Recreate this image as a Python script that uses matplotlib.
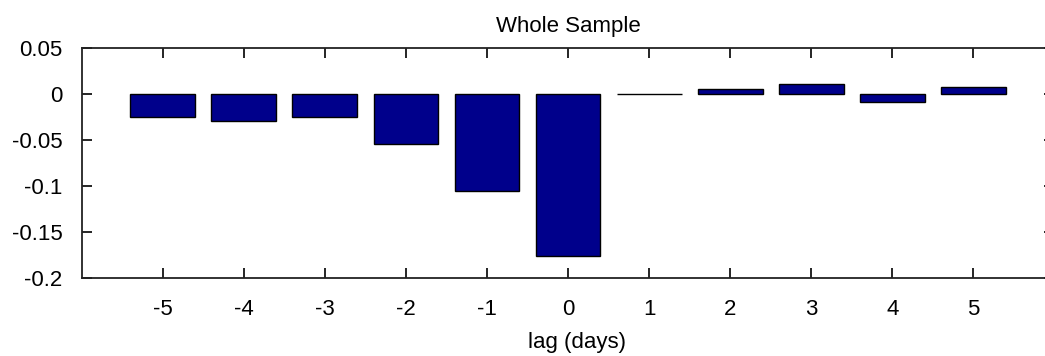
import matplotlib
matplotlib.use("Agg")
import matplotlib.pyplot as plt

lags = [-5, -4, -3, -2, -1, 0, 1, 2, 3, 4, 5]
values = [-0.0243, -0.029, -0.025, -0.054, -0.105, -0.176, 0.0003, 0.006, 0.011, -0.0081, 0.0079]
yticks = [0.05, 0, -0.05, -0.1, -0.15, -0.2]
ytick_labels = ["0.05", "0", "-0.05", "-0.1", "-0.15", "-0.2"]

plt.rcParams['font.family'] = ['Liberation Sans', 'DejaVu Sans']

fig = plt.figure(figsize=(10.45, 3.56), dpi=100)
ax = fig.add_axes([0.0782, 0.219, 1.009 - 0.0782, 0.864 - 0.219])

ax.bar(lags, values, width=0.8, color='#00008B', edgecolor='black', linewidth=1.0)

ax.set_xlim(-6, 6)
ax.set_ylim(-0.2, 0.05)
ax.set_xticks(lags)
ax.set_xticklabels([str(l) for l in lags])
ax.set_yticks(yticks)
ax.set_yticklabels(ytick_labels)

ax.tick_params(axis='both', direction='in', length=7, width=1.2, labelsize=16,
               top=True, right=True)
ax.tick_params(axis='y', pad=14)
ax.tick_params(axis='x', pad=15)
for s in ax.spines.values():
    s.set_linewidth(1.3)
    s.set_color('#222222')

ax.set_title("Whole Sample", fontsize=16, pad=12)
ax.set_xlabel("lag (days)", fontsize=16, labelpad=9)
ax.xaxis.label.set_x(0.509)

fig.savefig("out.png", dpi=100)
